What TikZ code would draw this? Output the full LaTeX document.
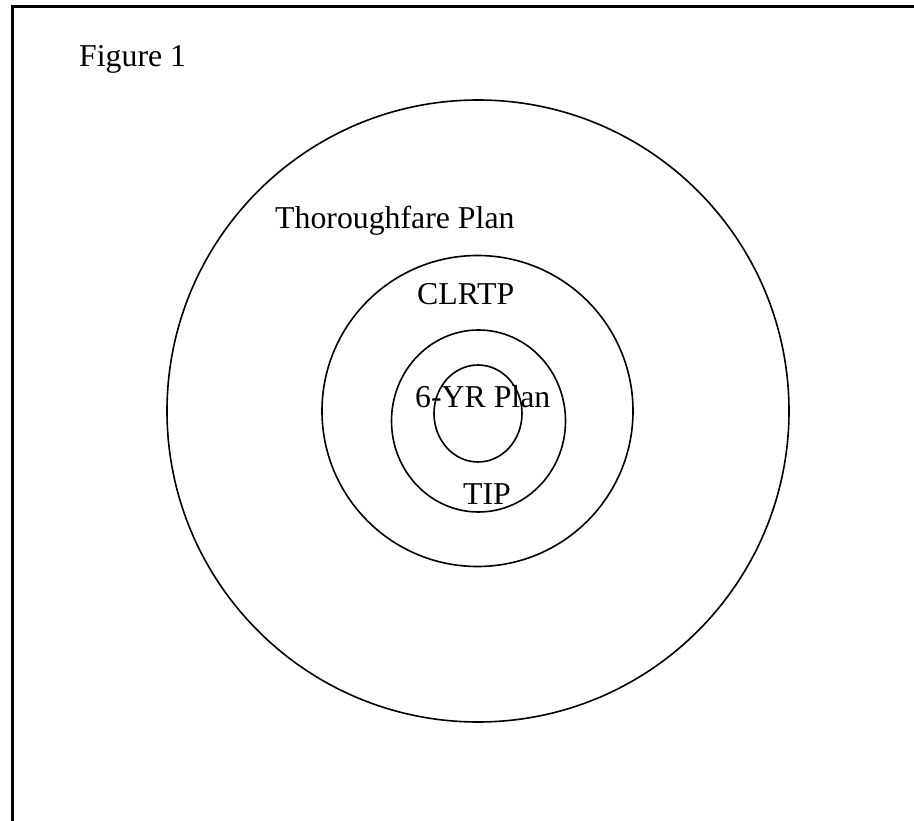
\documentclass[tikz,border=0pt]{standalone}
\usepackage{fontspec}
\setmainfont{Liberation Serif}
\begin{document}
\begin{tikzpicture}[x=1pt,y=-1pt,
  ring/.style={draw=black,line width=1.6pt},
  label/.style={anchor=base west,inner sep=0pt,font=\fontsize{31.8}{38}\selectfont}]
\useasboundingbox (0,0) rectangle (914,821);
\clip (0,0) rectangle (914,821);
% page frame (continues past the right and bottom edges)
\draw[line width=3pt] (12.5,6.5) rectangle (1000,1000);
% nested plan rings
\draw[ring] (478,411) circle [radius=311];
\draw[ring] (477.5,411) circle [radius=155.5];
\draw[ring] (478.5,421) ellipse [x radius=87,y radius=91];
\draw[ring] (478,413.5) ellipse [x radius=44,y radius=48.5];
% labels
\node[label] (fig) at (79,67) {Figure 1};
\node[label] (thp) at (275,229) {Thoroughfare Plan};
\node[label] (clr) at (417,305) {CLRTP};
\node[label] (six) at (415,407) {6-YR Plan};
\node[label] (tip) at (463,504) {TIP};
\end{tikzpicture}
\end{document}
